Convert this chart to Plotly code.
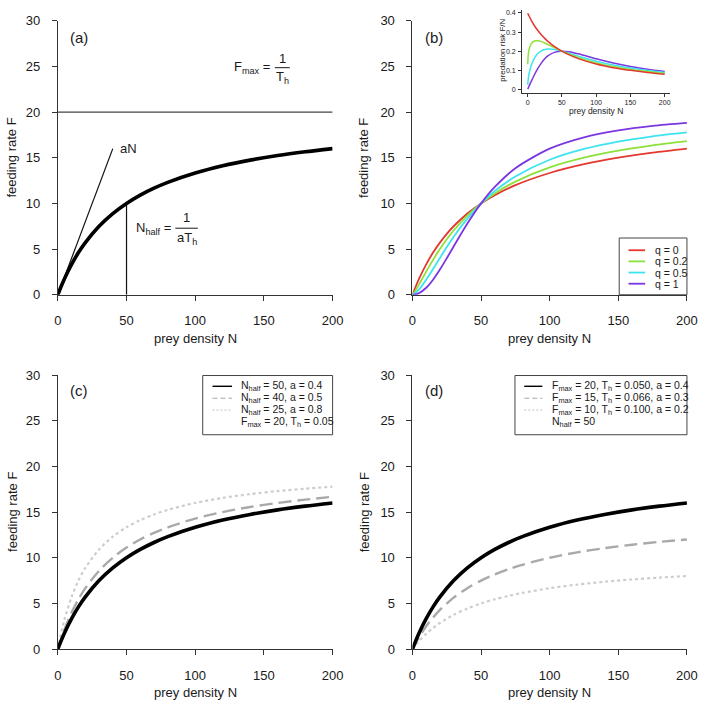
import plotly.graph_objects as go

# ---------------- data ----------------
N_pts = [0, 2, 5, 10, 15, 20, 30, 40, 50, 60, 70, 80, 100, 120, 140, 160, 180, 200]
F_half50 = [0, 0.77, 1.82, 3.33, 4.62, 5.71, 7.5, 8.89, 10, 10.91, 11.67, 12.31, 13.33, 14.12, 14.74, 15.24, 15.65, 16]
F_half40 = [0, 0.95, 2.22, 4.0, 5.45, 6.67, 8.57, 10, 11.11, 12.0, 12.73, 13.33, 14.29, 15.0, 15.56, 16.0, 16.36, 16.67]
F_half25 = [0, 1.48, 3.33, 5.71, 7.5, 8.89, 10.91, 12.31, 13.33, 14.12, 14.74, 15.24, 16.0, 16.55, 16.97, 17.3, 17.56, 17.78]
F_max15 = [0, 0.58, 1.36, 2.5, 3.46, 4.29, 5.63, 6.67, 7.5, 8.18, 8.75, 9.23, 10.0, 10.59, 11.05, 11.43, 11.74, 12.0]
F_max10 = [0, 0.38, 0.91, 1.67, 2.31, 2.86, 3.75, 4.44, 5.0, 5.45, 5.83, 6.15, 6.67, 7.06, 7.37, 7.62, 7.83, 8.0]

aN_x = [0, 40]
aN_y = [0, 16]
Fmax_x = [0, 200]
Fmax_y = [20, 20]
Nhalf_x = [50, 50]
Nhalf_y = [0, 10]

N_b = [0, 2, 5, 10, 15, 20, 25, 30, 40, 50, 60, 75, 100, 125, 150, 175, 200]
F_q0 = [0, 0.77, 1.82, 3.33, 4.62, 5.71, 6.67, 7.5, 8.89, 10, 10.91, 12.0, 13.33, 14.29, 15.0, 15.56, 16.0]
F_q02 = [0, 0.41, 1.19, 2.53, 3.82, 5.0, 6.07, 7.03, 8.67, 10, 11.09, 12.39, 13.94, 15.0, 15.78, 16.36, 16.81]
F_q05 = [0, 0.16, 0.61, 1.64, 2.82, 4.04, 5.22, 6.35, 8.34, 10, 11.36, 12.95, 14.78, 15.96, 16.77, 17.35, 17.78]
F_q1 = [0, 0.03, 0.2, 0.77, 1.65, 2.76, 4.0, 5.29, 7.8, 10, 11.8, 13.85, 16.0, 17.24, 18.0, 18.49, 18.82]

N_in = [0.2, 1, 2, 5, 10, 15, 20, 25, 30, 40, 50, 60, 75, 100, 125, 150, 175, 200]
R_q0 = [0.398, 0.392, 0.385, 0.364, 0.333, 0.308, 0.286, 0.267, 0.25, 0.222, 0.2, 0.182, 0.16, 0.133, 0.114, 0.1, 0.089, 0.08]
R_q02 = [0.132, 0.181, 0.206, 0.237, 0.253, 0.254, 0.25, 0.243, 0.234, 0.217, 0.2, 0.185, 0.165, 0.139, 0.12, 0.105, 0.0935, 0.0841]
R_q05 = [0.025, 0.056, 0.0795, 0.123, 0.164, 0.188, 0.202, 0.209, 0.2115, 0.209, 0.2, 0.189, 0.173, 0.148, 0.128, 0.112, 0.099, 0.0889]
R_q1 = [0.002, 0.008, 0.016, 0.0396, 0.0769, 0.11, 0.138, 0.16, 0.1765, 0.195, 0.2, 0.197, 0.185, 0.16, 0.138, 0.12, 0.106, 0.0941]

x_ticks = [0, 50, 100, 150, 200]
y_ticks = [0, 5, 10, 15, 20, 25, 30]
in_y_ticks = [0, 0.1, 0.2, 0.3, 0.4]
in_y_labels = ["0", "0.1", "0.2", "0.3", "0.4"]

q_labels = ["q = 0", "q = 0.2", "q = 0.5", "q = 1"]
q_colors = ["#e3382f", "#8ee03a", "#3de3f0", "#7b36e0"]
c_labels = ["N<sub>half</sub> = 50, a = 0.4", "N<sub>half</sub> = 40, a = 0.5",
            "N<sub>half</sub> = 25, a = 0.8", "F<sub>max</sub> = 20, T<sub>h</sub> = 0.05"]
d_labels = ["F<sub>max</sub> = 20, T<sub>h</sub> = 0.050, a = 0.4", "F<sub>max</sub> = 15, T<sub>h</sub> = 0.066, a = 0.3",
            "F<sub>max</sub> = 10, T<sub>h</sub> = 0.100, a = 0.2", "N<sub>half</sub> = 50"]

# ---------------- styling ----------------
W, H = 709, 708
FONT = "Liberation Sans, Arial, Helvetica, sans-serif"
TXT = "#1a1a1a"
AX = "#333333"
BLACK_W = 3.6
GREY_DASH = dict(color="#a9a9a9", width=2.4, dash="13px,6px")
GREY_DOT = dict(color="#cdcdcd", width=2.2, dash="3px,3px")


def px(x):
    return x / W


def py(y):
    return 1 - y / H


fig = go.Figure()


def line(x, y, xa, ya, **kw):
    fig.add_trace(go.Scatter(x=x, y=y, mode="lines", xaxis=xa, yaxis=ya,
                             showlegend=False, hoverinfo="skip", **kw))


# panel (a)
line(Fmax_x, Fmax_y, "x", "y", line=dict(color="#444", width=1.2))
line(aN_x, aN_y, "x", "y", line=dict(color="#111", width=1.2))
line(Nhalf_x, Nhalf_y, "x", "y", line=dict(color="#111", width=1.2))
line(N_pts, F_half50, "x", "y", line=dict(color="black", width=BLACK_W, shape="spline", smoothing=0.8))

# panel (b)
for vals, col in zip([F_q0, F_q02, F_q05, F_q1], q_colors):
    line(N_b, vals, "x2", "y2", line=dict(color=col, width=1.8, shape="spline", smoothing=0.8))

# panel (c)
line(N_pts, F_half25, "x3", "y3", line=dict(GREY_DOT, shape="spline", smoothing=0.8))
line(N_pts, F_half40, "x3", "y3", line=dict(GREY_DASH, shape="spline", smoothing=0.8))
line(N_pts, F_half50, "x3", "y3", line=dict(color="black", width=BLACK_W, shape="spline", smoothing=0.8))

# panel (d)
line(N_pts, F_max10, "x4", "y4", line=dict(GREY_DOT, shape="spline", smoothing=0.8))
line(N_pts, F_max15, "x4", "y4", line=dict(GREY_DASH, shape="spline", smoothing=0.8))
line(N_pts, F_half50, "x4", "y4", line=dict(color="black", width=BLACK_W, shape="spline", smoothing=0.8))

# inset
for vals, col in zip([R_q1, R_q05, R_q02, R_q0], q_colors[::-1]):
    line(N_in, vals, "x5", "y5", line=dict(color=col, width=1.5, shape="spline", smoothing=0.8))

# ---------------- axes ----------------
xdom_l = [px(55), px(335.7)]
xdom_r = [px(417.3), px(697.7)]
ydom_t = [py(294), py(14)]
ydom_b = [py(656), py(376)]

common = dict(showgrid=False, zeroline=False, showline=True, linecolor=AX, linewidth=1,
              ticks="outside", ticklen=5, tickwidth=1, tickcolor=AX,
              tickfont=dict(family=FONT, size=13, color=TXT), fixedrange=True)

layout_axes = {}
for i, (xd, yd) in enumerate([(xdom_l, ydom_t), (xdom_r, ydom_t), (xdom_l, ydom_b), (xdom_r, ydom_b)], start=1):
    sfx = "" if i == 1 else str(i)
    layout_axes["xaxis" + sfx] = dict(common, domain=xd, range=[0, 200], tickvals=x_ticks,
                                      anchor="y" + sfx, ticklabelstandoff=9)
    layout_axes["yaxis" + sfx] = dict(common, domain=yd, range=[0, 30], tickvals=y_ticks,
                                      anchor="x" + sfx, ticklabelstandoff=9)

inset_common = dict(showgrid=False, zeroline=False, showline=True, linecolor=AX, linewidth=1,
                    ticks="outside", ticklen=3, tickwidth=1, tickcolor=AX,
                    tickfont=dict(family=FONT, size=7, color=TXT), fixedrange=True)
layout_axes["xaxis5"] = dict(inset_common, domain=[px(529.3), px(680.6)], range=[-8, 208],
                             tickvals=x_ticks, anchor="y5", ticklabelstandoff=0)
layout_axes["yaxis5"] = dict(inset_common, domain=[py(87.4), py(2.9)], range=[-0.016, 0.416],
                             tickvals=in_y_ticks, ticktext=in_y_labels, anchor="x5", ticklabelstandoff=1)

fig.update_layout(width=W, height=H, margin=dict(l=0, r=0, t=0, b=0),
                  paper_bgcolor="white", plot_bgcolor="white",
                  font=dict(family=FONT, color=TXT), showlegend=False, **layout_axes)

ann = []
shapes = []


def txt(x, y, s, size=13, xanchor="center", yanchor="middle", angle=0, xref="paper", yref="paper"):
    ann.append(dict(x=x, y=y, xref=xref, yref=yref, text=s, showarrow=False, xanchor=xanchor,
                    yanchor=yanchor, textangle=angle, font=dict(family=FONT, size=size, color=TXT)))


# axis titles
for cx, cy in [(195.3, 339), (557.5, 339), (195.3, 700.5), (557.5, 700.5)]:
    txt(px(cx), py(cy), "prey density N")
for cx, cy in [(8, 154), (368, 154), (8, 516), (368, 516)]:
    txt(px(cx), py(cy), "feeding rate F", angle=-90)

# panel labels
for lab, (cx, cy) in zip(["(a)", "(b)", "(c)", "(d)"], [(77, 31), (439.5, 31), (77, 392), (439.5, 392)]):
    txt(px(cx), py(cy), lab, size=15)

# inset titles
txt(px(605), py(106.5), "prey density N", size=8.5)
txt(px(508.5), py(44), "predation risk F/N", size=8, angle=-90)

# panel (a) formula annotations (pixel positions)
txt(px(274), py(62), "F<sub>max</sub> =", xanchor="right")
txt(px(284.3), py(53), "1")
txt(px(284.3), py(72.5), "T<sub>h</sub>")
shapes.append(dict(type="line", xref="paper", yref="paper", x0=px(276.7), x1=px(292), y0=py(62), y1=py(62),
                   line=dict(color=TXT, width=1)))
txt(px(173), py(226), "N<sub>half</sub> =", xanchor="right")
txt(px(186.5), py(215), "1")
txt(px(186.5), py(237), "aT<sub>h</sub>")
shapes.append(dict(type="line", xref="paper", yref="paper", x0=px(175), x1=px(198), y0=py(226), y1=py(226),
                   line=dict(color=TXT, width=1)))
txt(px(127.5), py(145), "aN")

# legend (b)
shapes.append(dict(type="rect", xref="paper", yref="paper", x0=px(628.5), x1=px(697.7), y0=py(294), y1=py(236),
                   line=dict(color="#444", width=1), fillcolor="white", layer="above"))
for k, (lab, col) in enumerate(zip(q_labels, q_colors)):
    yy = 248.5 + k * 11.4
    shapes.append(dict(type="line", xref="paper", yref="paper", x0=px(638), x1=px(655), y0=py(yy), y1=py(yy),
                       line=dict(color=col, width=1.8), layer="above"))
    txt(px(663), py(yy), lab, size=10.5, xanchor="left")

# legends (c) and (d)
for (x0, x1, ls0, ls1, tx, labels) in [(203, 335.7, 213, 233, 240.5, c_labels),
                                       (522, 697.7, 531.5, 550, 558, d_labels)]:
    shapes.append(dict(type="rect", xref="paper", yref="paper", x0=px(x0), x1=px(x1), y0=py(437), y1=py(376.5),
                       line=dict(color="#444", width=1), fillcolor="white", layer="above"))
    styles = [dict(color="black", width=1.4), dict(color="#a9a9a9", width=1.2, dash="5px,3px"),
              dict(color="#cdcdcd", width=1.2, dash="2px,2px"), None]
    for k, lab in enumerate(labels):
        yy = 387.5 + k * 12.2
        if styles[k] is not None:
            shapes.append(dict(type="line", xref="paper", yref="paper", x0=px(ls0), x1=px(ls1), y0=py(yy), y1=py(yy),
                               line=styles[k], layer="above"))
        txt(px(tx), py(yy), lab, size=10.5, xanchor="left")

fig.update_layout(annotations=ann, shapes=shapes)
fig.write_html("out.html")
